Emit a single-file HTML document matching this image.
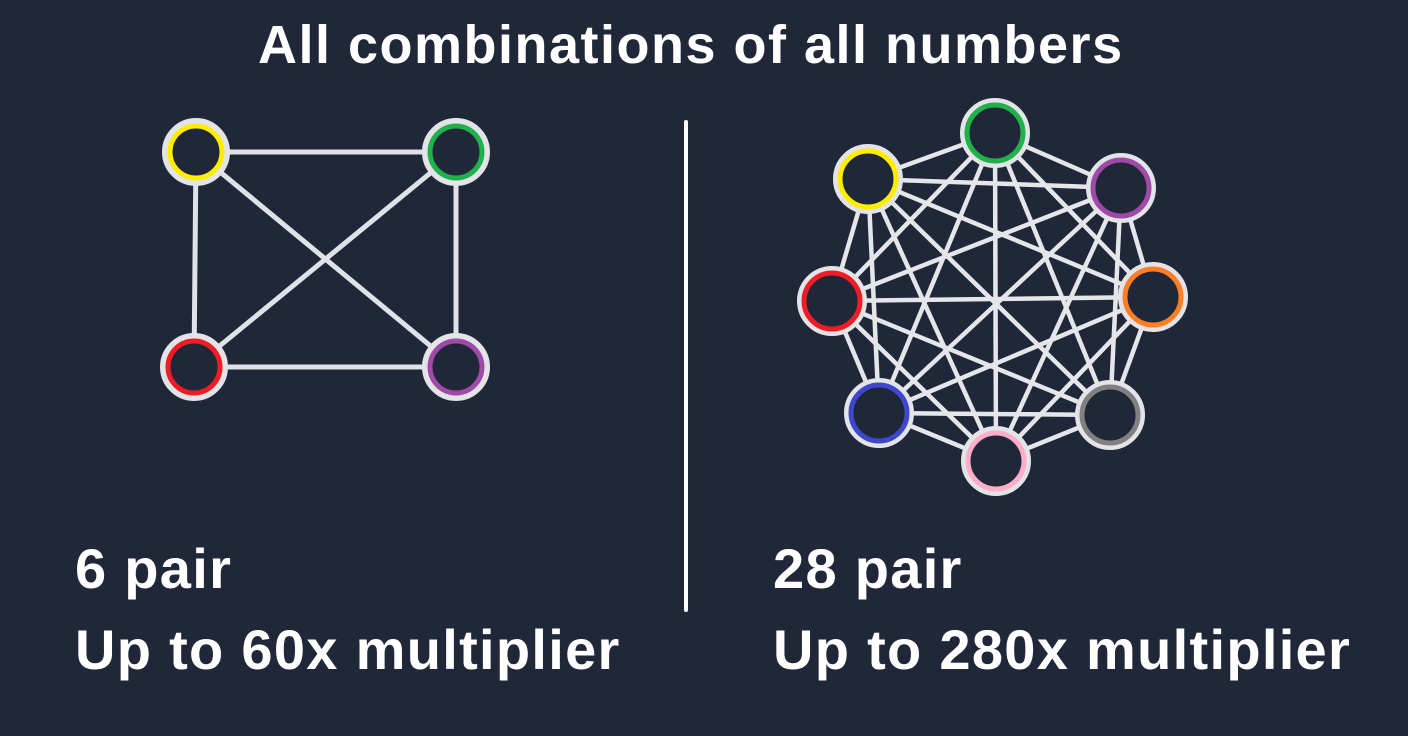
<!DOCTYPE html>
<html><head><meta charset="utf-8"><style>
html,body{margin:0;padding:0;background:#1f2738;}
body{width:1408px;height:736px;overflow:hidden;position:relative;font-family:"Liberation Sans",sans-serif;color:#fff;}
.t{position:absolute;font-weight:bold;white-space:nowrap;}
.b{font-size:56px;letter-spacing:1.3px;}
</style></head><body>
<svg width="1408" height="736" style="position:absolute;left:0;top:0">
<g stroke="#dfe2e8" stroke-width="5" stroke-linecap="round">
<line x1="196" y1="152" x2="456" y2="152"/><line x1="196" y1="152" x2="194" y2="367"/>
<line x1="196" y1="152" x2="456" y2="367"/><line x1="456" y1="152" x2="194" y2="367"/>
<line x1="456" y1="152" x2="456" y2="367"/><line x1="194" y1="367" x2="456" y2="367"/>
</g>
<g stroke="#e4e6ea" stroke-width="4.5" stroke-linecap="round">
<line x1="995" y1="133" x2="868" y2="179"/><line x1="995" y1="133" x2="1121" y2="188"/><line x1="995" y1="133" x2="832" y2="301"/><line x1="995" y1="133" x2="1153" y2="297"/><line x1="995" y1="133" x2="879" y2="413"/><line x1="995" y1="133" x2="1110" y2="415"/><line x1="995" y1="133" x2="996" y2="461"/>
<line x1="868" y1="179" x2="1121" y2="188"/><line x1="868" y1="179" x2="832" y2="301"/><line x1="868" y1="179" x2="1153" y2="297"/><line x1="868" y1="179" x2="879" y2="413"/><line x1="868" y1="179" x2="1110" y2="415"/><line x1="868" y1="179" x2="996" y2="461"/>
<line x1="1121" y1="188" x2="832" y2="301"/><line x1="1121" y1="188" x2="1153" y2="297"/><line x1="1121" y1="188" x2="879" y2="413"/><line x1="1121" y1="188" x2="1110" y2="415"/><line x1="1121" y1="188" x2="996" y2="461"/>
<line x1="832" y1="301" x2="1153" y2="297"/><line x1="832" y1="301" x2="879" y2="413"/><line x1="832" y1="301" x2="1110" y2="415"/><line x1="832" y1="301" x2="996" y2="461"/>
<line x1="1153" y1="297" x2="879" y2="413"/><line x1="1153" y1="297" x2="1110" y2="415"/><line x1="1153" y1="297" x2="996" y2="461"/>
<line x1="879" y1="413" x2="1110" y2="415"/><line x1="879" y1="413" x2="996" y2="461"/>
<line x1="1110" y1="415" x2="996" y2="461"/>
</g>
<g fill="#1f2738" stroke="#e2e4e8" stroke-width="6">
<circle cx="196" cy="152" r="31"/><circle cx="456" cy="152" r="31"/><circle cx="194" cy="367" r="31"/><circle cx="456" cy="367" r="31"/>
<circle cx="995" cy="133" r="32"/><circle cx="868" cy="179" r="32"/><circle cx="1121" cy="188" r="32"/><circle cx="832" cy="301" r="32"/><circle cx="1153" cy="297" r="32"/><circle cx="879" cy="413" r="32"/><circle cx="1110" cy="415" r="32"/><circle cx="996" cy="461" r="32"/>
</g>
<g fill="none" stroke-width="5">
<circle cx="196" cy="152" r="26" stroke="#ffee00"/><circle cx="456" cy="152" r="26" stroke="#22b04a"/><circle cx="194" cy="367" r="26" stroke="#ee1c24"/><circle cx="456" cy="367" r="26" stroke="#a04aa8"/>
<circle cx="995" cy="133" r="28" stroke="#22b04a"/><circle cx="868" cy="179" r="28" stroke="#ffee00"/><circle cx="1121" cy="188" r="28" stroke="#a04aa8"/><circle cx="832" cy="301" r="28" stroke="#ee1c24"/><circle cx="1153" cy="297" r="28" stroke="#ff7f27"/><circle cx="879" cy="413" r="28" stroke="#3f48cc"/><circle cx="1110" cy="415" r="28" stroke="#808080"/><circle cx="996" cy="461" r="28" stroke="#ffaec9"/>
</g>
<line x1="686" y1="122" x2="686" y2="610" stroke="#fff" stroke-width="4" stroke-linecap="round"/>
</svg>
<div class="t" style="left:258px;top:14px;font-size:54px;letter-spacing:1.5px;">All combinations of all numbers</div>
<div class="t b" style="left:75px;top:536px;">6 pair</div>
<div class="t b" style="left:75px;top:617px;">Up to 60x multiplier</div>
<div class="t b" style="left:773px;top:536px;">28 pair</div>
<div class="t b" style="left:773px;top:617px;">Up to 280x multiplier</div>
</body></html>
